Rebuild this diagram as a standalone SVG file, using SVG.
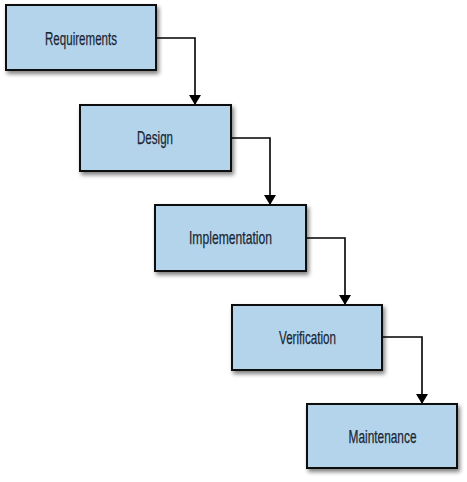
<svg xmlns="http://www.w3.org/2000/svg" width="467" height="482" viewBox="0 0 467 482">
<defs>
<filter id="sh" x="-10%" y="-10%" width="130%" height="140%">
<feGaussianBlur in="SourceAlpha" stdDeviation="2"/>
<feOffset dx="2" dy="3" result="b"/>
<feComponentTransfer><feFuncA type="linear" slope="0.5"/></feComponentTransfer>
<feMerge><feMergeNode/><feMergeNode in="SourceGraphic"/></feMerge>
</filter>
<marker id="ah" viewBox="0 0 10 12" refX="10" refY="6" markerWidth="10" markerHeight="12" markerUnits="userSpaceOnUse" orient="auto">
<path d="M0,0 L10,6 L0,12 Z" fill="#000"/>
</marker>
</defs>
<style>
.box{fill:#b4d4ec;stroke:#111;stroke-width:2;filter:url(#sh)}
.lbl{font-family:"Liberation Sans",Arial,sans-serif;font-size:19px;fill:#1a2633;text-anchor:middle;stroke:#1a2633;stroke-width:0.25}
.con{fill:none;stroke:#000;stroke-width:1.6}
</style>
<rect width="467" height="482" fill="#fff"/>
<g id="connectors">
<path class="con" d="M156,38 H195 V105" marker-end="url(#ah)"/>
<path class="con" d="M231,138 H270 V205" marker-end="url(#ah)"/>
<path class="con" d="M306,238 H345 V305" marker-end="url(#ah)"/>
<path class="con" d="M382,337 H422 V404" marker-end="url(#ah)"/>
</g>
<g id="requirements">
<rect class="box" x="6" y="5" width="150" height="65"/>
<text class="lbl" x="81" y="45" textLength="72" lengthAdjust="spacingAndGlyphs">Requirements</text>
</g>
<g id="design">
<rect class="box" x="80" y="105" width="151" height="66"/>
<text class="lbl" x="155" y="144" textLength="36" lengthAdjust="spacingAndGlyphs">Design</text>
</g>
<g id="implementation">
<rect class="box" x="155" y="205" width="151" height="66"/>
<text class="lbl" x="230.5" y="244" textLength="83" lengthAdjust="spacingAndGlyphs">Implementation</text>
</g>
<g id="verification">
<rect class="box" x="232" y="305" width="150" height="65"/>
<text class="lbl" x="307.5" y="344" textLength="57" lengthAdjust="spacingAndGlyphs">Verification</text>
</g>
<g id="maintenance">
<rect class="box" x="307" y="404" width="150" height="64"/>
<text class="lbl" x="382.5" y="443" textLength="68" lengthAdjust="spacingAndGlyphs">Maintenance</text>
</g>
</svg>
